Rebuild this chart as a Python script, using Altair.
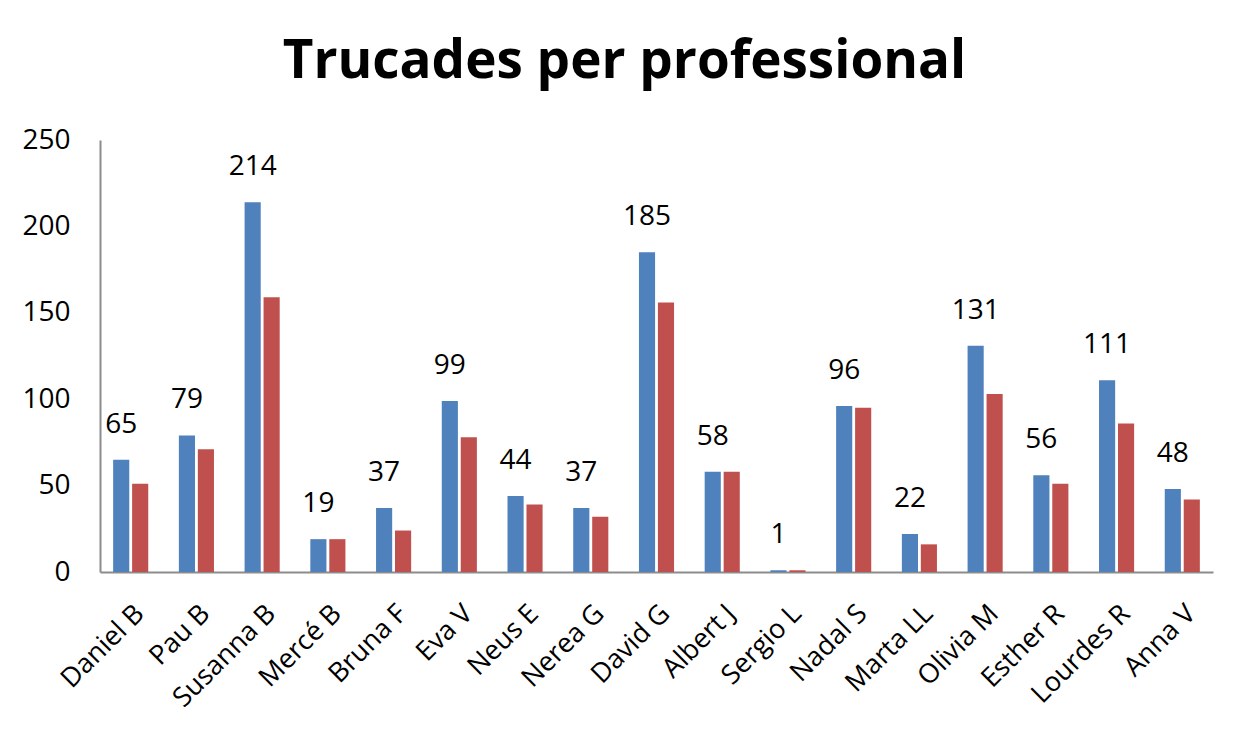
import altair as alt
import pandas as pd

names = ["Daniel B", "Pau B", "Susanna B", "Mercé B", "Bruna F", "Eva V", "Neus E",
         "Nerea G", "David G", "Albert J", "Sergio L", "Nadal S", "Marta LL",
         "Olivia M", "Esther R", "Lourdes R", "Anna V"]
serie_a = [65, 79, 214, 19, 37, 99, 44, 37, 185, 58, 1, 96, 22, 131, 56, 111, 48]
serie_b = [51, 71, 159, 19, 24, 78, 39, 32, 156, 58, 1, 95, 16, 103, 51, 86, 42]

rows = []
for n, a, b in zip(names, serie_a, serie_b):
    rows.append({"name": n, "serie": "A", "value": a})
    rows.append({"name": n, "serie": "B", "value": b})
df = pd.DataFrame(rows)

FONT = "Open Sans"

x = alt.X("name:N", sort=names, title=None,
          scale=alt.Scale(paddingInner=0.466, paddingOuter=0.2),
          axis=alt.Axis(labelAngle=-45, labelFont=FONT, labelFontSize=27,
                        labelColor="#000000", labelPadding=28, ticks=False,
                        domainColor="#8c8c8c", domainWidth=2))
xo = alt.XOffset("serie:N", scale=alt.Scale(domain=["A", "B"], paddingInner=0.15, paddingOuter=0))

bars = alt.Chart(df).mark_bar().encode(
    x=x,
    xOffset=xo,
    y=alt.Y("value:Q", title=None,
            scale=alt.Scale(domain=[0, 250], nice=False),
            axis=alt.Axis(values=[0, 50, 100, 150, 200, 250], grid=False, ticks=False,
                          labelFont=FONT, labelFontSize=28, labelColor="#000000",
                          labelPadding=30, domainColor="#8c8c8c", domainWidth=2)),
    color=alt.Color("serie:N", scale=alt.Scale(domain=["A", "B"], range=["#4F81BD", "#C0504D"]),
                    legend=None),
)

labels = alt.Chart(df).transform_filter(alt.datum.serie == "A").mark_text(
    font=FONT, fontSize=28, color="#000000", baseline="alphabetic", dy=-27
).encode(
    x=alt.X("name:N", sort=names),
    xOffset=xo,
    y="value:Q",
    text="value:Q",
)

chart = alt.layer(bars, labels).properties(
    width=1113, height=432,
    background="#ffffff",
    title=alt.Title("Trucades per professional", font=FONT, fontSize=53, fontWeight="bold",
                    color="#000000", anchor="middle", dx=-32, offset=37),
    autosize=alt.AutoSizeParams(type="none"),
    padding={"left": 92, "top": 132, "right": 30, "bottom": 156},
).configure_view(stroke=None, strokeWidth=0)

chart.save("out.html", embed_options={"renderer": "svg", "actions": False})
